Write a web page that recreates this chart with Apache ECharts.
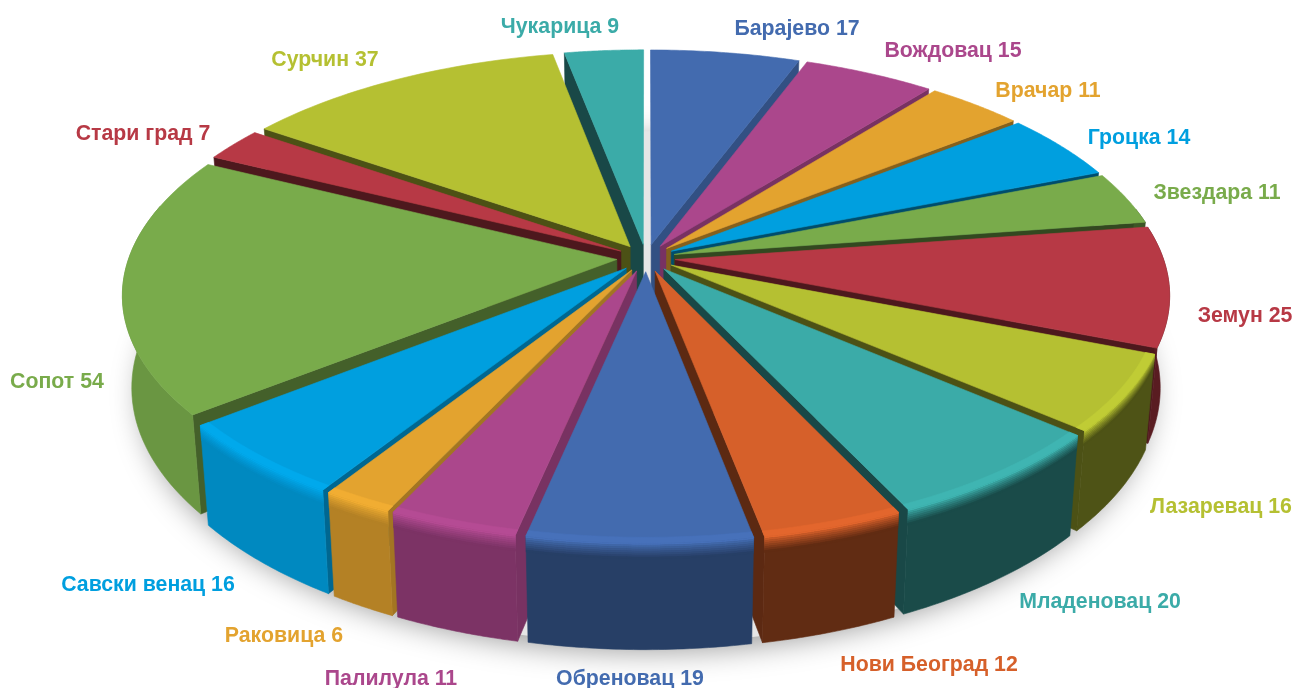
<!DOCTYPE html>
<html><head><meta charset="utf-8">
<style>html,body{margin:0;padding:0;background:#fff}#c{width:1292px;height:688px;filter:blur(0.4px)}</style>
<script src="https://cdn.jsdelivr.net/npm/echarts@6/dist/echarts.min.js"></script>
</head><body><div id="c"></div>
<script>
const districts = ['Барајево','Вождовац','Врачар','Гроцка','Звездара','Земун','Лазаревац','Младеновац','Нови Београд','Обреновац','Палилула','Раковица','Савски венац','Сопот','Стари град','Сурчин','Чукарица'];
const counts = [17,15,11,14,11,25,16,20,12,19,11,6,16,54,7,37,9];
const sliceColors = ['#436BAF','#AB478C','#E3A32F','#009FDF','#79AB4B','#B73945','#B5C032','#3BABA8','#D6602A'];

// layout of the labels (centre of each text)
const labelCentres = [[797,29],[953,51],[1048,91],[1139,138],[1217,193],[1245,316],[1221,507],[1100,602],[929,665],[630,679],[391,679],[284,636],[148,585],[57,382],[143,134],[325,60],[560,27]];

const total = counts.reduce((a,b)=>a+b,0);
const CX=646, CY=258, RX=488, RY=227, K=0.147, EXPLODE=0.06, H=90, STEPS=36, CONVERGE=0.018;
function project(X,Y,z){
  const s=1/(1+K*Y), c=1-CONVERGE*z/H;
  return [CX+RX*X*s*c, CY-RY*Y*s+z*s];
}
function interp(tbl,x){
  if(x<=tbl[0][0])return tbl[0][1];
  for(let i=1;i<tbl.length;i++){if(x<=tbl[i][0]){const a=tbl[i-1],b=tbl[i];return a[1]+(b[1]-a[1])*(x-a[0])/(b[0]-a[0]);}}
  return tbl[tbl.length-1][1];
}
const wallShade=[[90,.5],[120,.43],[160,.44],[180,.58],[198,.72],[210,.8],[222,.86],[260,.88],[360,.88]];
const radialShade=[[10,.75],[30,.7],[50,.55],[70,.42],[150,.42],[180,.45],[200,.72],[215,.72],[225,.62],[260,.58],[290,.42],[360,.42]];
function shade(hex,f){
  const n=parseInt(hex.slice(1),16);
  const c=[(n>>16)&255,(n>>8)&255,n&255].map(v=>Math.min(255,Math.round(v*f)));
  return 'rgb('+c.join(',')+')';
}
function mix(a,b,t){return a+(b-a)*t;}
function poly(points,fill,z2,extra){
  return Object.assign({type:'polygon',z2:z2,silent:true,shape:{points:points},
    style:{fill:fill,stroke:fill,lineWidth:0.6}},extra||{});
}
const WALL_FROM=78*Math.PI/180, WALL_TO=284*Math.PI/180;
function renderSlice(params,api){
  const i=params.dataIndex, v=api.value(0);
  let before=0; for(let j=0;j<i;j++)before+=counts[j];
  const a0=before/total*2*Math.PI, a1=(before+v)/total*2*Math.PI, am=(a0+a1)/2;
  const deg=am*180/Math.PI;
  const ox=EXPLODE*Math.sin(am), oy=EXPLODE*Math.cos(am);
  const color=sliceColors[i%sliceColors.length];
  const order=Math.round((1-Math.cos(am))*500);
  const rim=(r,t,z)=>project(ox+r*Math.sin(t),oy+r*Math.cos(t),z);
  const arcBetween=(from,to,r,z,rev)=>{const p=[];for(let n=0;n<=STEPS;n++){const t=from+(to-from)*n/STEPS;p.push(rim(r,t,z));}return rev?p.reverse():p;};
  const tipTop=project(ox,oy,0), tipBot=project(ox,oy,H);
  const children=[];
  const rc=shade(color,interp(radialShade,deg));
  const z=order*30;
  if(Math.sin(a0)<-1e-6) children.push(poly([tipTop,rim(1,a0,0),rim(1,a0,H),tipBot],rc,z+1));
  if(Math.sin(a1)>1e-6) children.push(poly([tipTop,rim(1,a1,0),rim(1,a1,H),tipBot],rc,z+1));
  const w0=Math.max(a0,WALL_FROM), w1=Math.min(a1,WALL_TO);
  const ws=interp(wallShade,deg);
  if(w1>w0){
    children.push(poly(arcBetween(w0,w1,1,0).concat(arcBetween(w0,w1,1,H,true)),shade(color,ws),z+2));
  }
  const front=deg>105&&deg<262;
  if(front){
    const bands=8, bevel=H*0.15;
    for(let b=0;b<bands;b++){
      const t=b/(bands-1);
      children.push(poly(arcBetween(a0,a1,1,bevel*b/bands).concat(arcBetween(a0,a1,1,bevel*(b+1)/bands,true)),shade(color,mix(1.06,ws,Math.pow(t,.8))),z+3));
    }
  }
  children.push(poly([tipTop].concat(arcBetween(a0,a1,1,0)),color,z+4));
  if(front){
    children.push(poly(arcBetween(a0,a1,.982,0).concat(arcBetween(a0,a1,1,0,true)),shade(color,1.06),z+5));
  }
  const c=labelCentres[i];
  children.push({type:'text',z2:100000,silent:true,style:{text:districts[i]+' '+v,x:c[0],y:c[1],
    fill:color,font:'bold 21.3px "Liberation Sans", Arial, sans-serif',textAlign:'center',textVerticalAlign:'middle'}});
  if(i===0){
    const ring=[];for(let n=0;n<=120;n++){const t=n/120*2*Math.PI;ring.push(project(1.04*Math.sin(t),1.04*Math.cos(t),H));}
    children.push({type:'polygon',z2:-1,silent:true,shape:{points:ring},
      style:{fill:'#e6e6e6',shadowBlur:30,shadowColor:'rgba(0,0,0,0.4)',shadowOffsetY:8}});
  }
  return {type:'group',children:children};
}
const chart=echarts.init(document.getElementById('c'),null,{renderer:'canvas'});
chart.setOption({
  animation:false,
  backgroundColor:'#fff',
  series:[{type:'custom',coordinateSystem:'none',renderItem:renderSlice,
    data:counts.map((v,i)=>({name:districts[i],value:[v]}))}]
});
</script></body></html>
